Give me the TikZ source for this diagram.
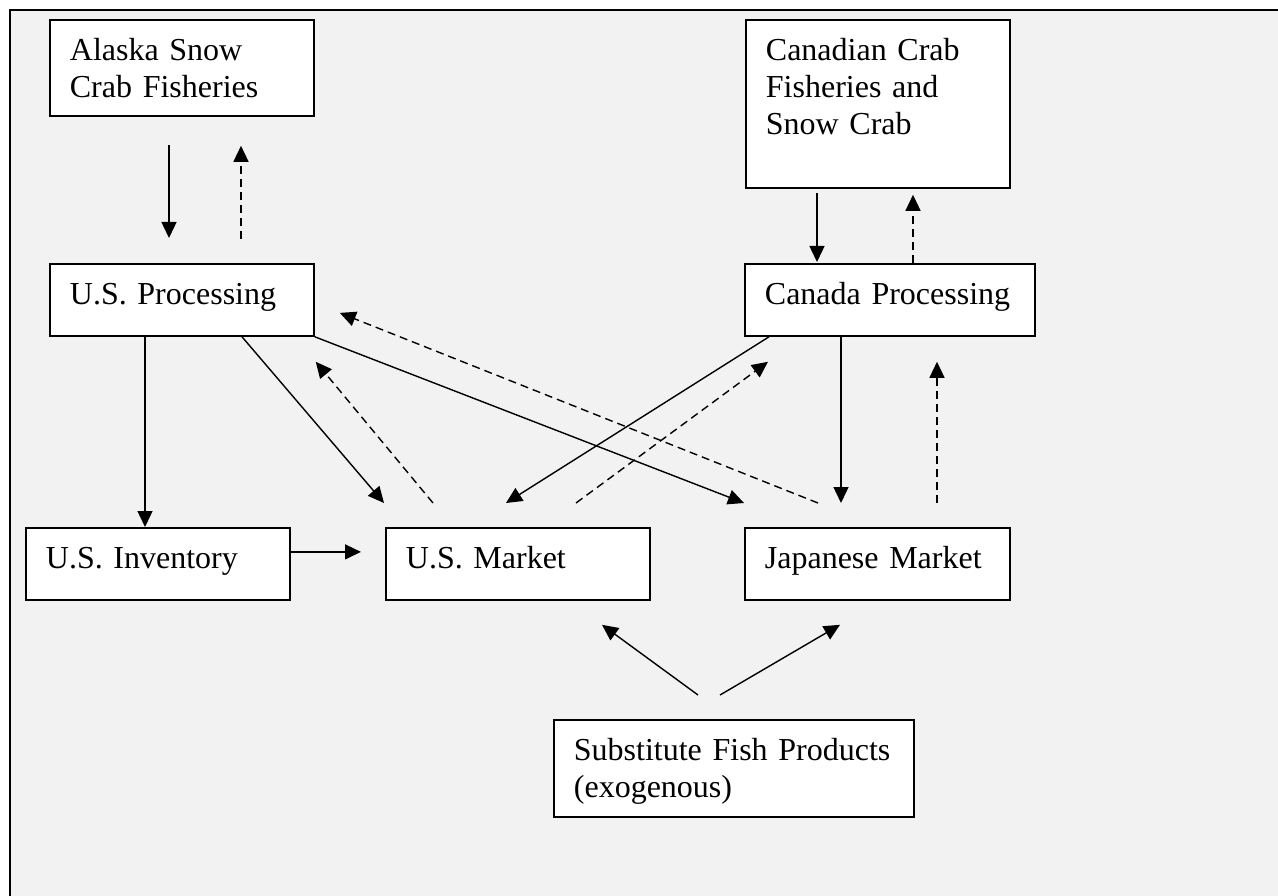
\documentclass[tikz,border=0pt]{standalone}
\usepackage{fontspec}
\setmainfont{Liberation Serif}
\usetikzlibrary{arrows.meta}
\definecolor{panel}{HTML}{F2F2F2}
\frenchspacing
\begin{document}
\begin{tikzpicture}[x=1pt, y=-1pt, line width=1.4pt,
  box/.style={draw, line width=1.8pt, fill=white, anchor=north west, align=left,
    inner xsep=20pt, inner ysep=0pt, text height=41pt, text depth=31pt, text width=224pt,
    font=\fontsize{32}{37}\selectfont},
  arr/.style={-{Triangle[length=16pt,width=15pt]}},
  back/.style={arr, dash pattern=on 8pt off 5pt}]
  \useasboundingbox (0,0) rectangle (1278,896);
  \fill[white] (0,0) rectangle (1278,896);
  \fill[panel] (10,10) rectangle (1278,896);
  \draw[line width=2.5pt] (10,896) -- (10,10) -- (1278,10);
  \node[box, text depth=55pt] (alaska) at (49,19) {Alaska Snow\\Crab Fisheries};
  \node[box, text depth=127pt] (canada) at (745,19) {Canadian Crab\\Fisheries and\\Snow Crab};
  \node[box] (usproc) at (49,263) {U.S. Processing};
  \node[box, text width=250pt] (caproc) at (744,263) {Canada Processing};
  \node[box] (usinv) at (25,527) {U.S. Inventory};
  \node[box] (usmkt) at (385,527) {U.S. Market};
  \node[box, text width=225pt] (jpmkt) at (744,527) {Japanese Market};
  \node[box, text width=320pt, text depth=56pt] (subst) at (553,719) {Substitute Fish Products\\(exogenous)};
  \draw[arr] ([shift={(120,28)}]alaska.south west) -- ([shift={(120,-25)}]usproc.north west);
  \draw[back] ([shift={(192,-24)}]usproc.north west) -- ([shift={(192,29)}]alaska.south west);
  \draw[arr] ([shift={(72,4)}]canada.south west) -- ([shift={(73,-1)}]caproc.north west);
  \draw[back] ([shift={(169,0)}]caproc.north west) -- ([shift={(168,6)}]canada.south west);
  \draw[arr] ([shift={(96,0)}]usproc.south west) -- ([shift={(120,0)}]usinv.north west);
  \draw[arr] ([shift={(193,0)}]usproc.south west) -- ([shift={(-1,-24)}]usmkt.north west);
  \draw[back] ([shift={(48,-24)}]usmkt.north west) -- ([shift={(1,25)}]usproc.south east);
  \draw[arr] (usproc.south east) -- ([shift={(0,-24)}]jpmkt.north west);
  \draw[back] ([shift={(74,-24)}]jpmkt.north west) -- ([shift={(25,13)}]usproc.east);
  \draw[arr] ([shift={(25,0)}]caproc.south west) -- ([shift={(121,-24)}]usmkt.north west);
  \draw[back] ([shift={(191,-24)}]usmkt.north west) -- ([shift={(24,25)}]caproc.south west);
  \draw[arr] ([shift={(97,0)}]caproc.south west) -- ([shift={(97,-24)}]jpmkt.north west);
  \draw[back] ([shift={(193,-24)}]jpmkt.north west) -- ([shift={(193,25)}]caproc.south west);
  \draw[arr] ([shift={(0,-12)}]usinv.east) -- ([shift={(-24,-12)}]usmkt.west);
  \draw[arr] ([shift={(145,-24)}]subst.north west) -- ([shift={(217,24)}]usmkt.south west);
  \draw[arr] ([shift={(167,-24)}]subst.north west) -- ([shift={(96,24)}]jpmkt.south west);
\end{tikzpicture}
\end{document}
